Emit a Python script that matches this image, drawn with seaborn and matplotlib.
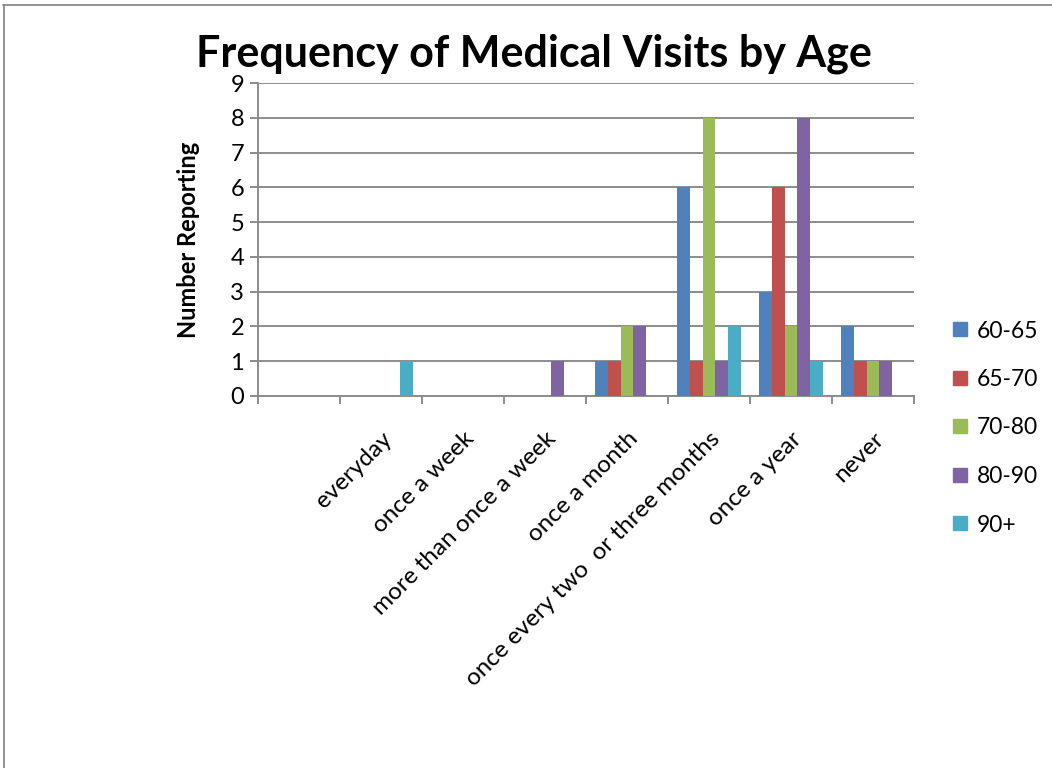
import matplotlib
matplotlib.use("Agg")
import matplotlib.pyplot as plt
from matplotlib.lines import Line2D
import numpy as np
import pandas as pd
import seaborn as sns

# Visit frequency categories (the first slot is an unlabeled, empty category)
categories = ["", "everyday", "once a week", "more than once a week",
              "once a month", "once every two  or three months",
              "once a year", "never"]

age_groups = ["60-65", "65-70", "70-80", "80-90", "90+"]

counts_60_65 = [0, 0, 0, 0, 1, 6, 3, 2]
counts_65_70 = [0, 0, 0, 0, 1, 1, 6, 1]
counts_70_80 = [0, 0, 0, 0, 2, 8, 2, 1]
counts_80_90 = [0, 0, 0, 1, 2, 1, 8, 1]
counts_90_plus = [0, 1, 0, 0, 0, 2, 1, 0]

colors = ["#4F81BD", "#C0504D", "#9BBB59", "#8064A2", "#4BACC6"]

series = [counts_60_65, counts_65_70, counts_70_80, counts_80_90, counts_90_plus]
rows = []
for grp, vals in zip(age_groups, series):
    for cat, v in zip(categories, vals):
        rows.append({"frequency": cat, "age": grp, "count": v})
df = pd.DataFrame(rows)

sns.set_theme(style="white")
plt.rcParams["font.family"] = ["Lato", "DejaVu Sans"]
plt.rcParams.update({"text.color": "black", "axes.labelcolor": "black",
                     "xtick.color": "black", "ytick.color": "black"})

grid_color = "#8C8C8C"

fig = plt.figure(figsize=(10.52, 7.68), dpi=100)
ax = fig.add_axes([258 / 1052, 1 - 396 / 768, (914 - 258) / 1052, (396 - 83) / 768])

sns.barplot(data=df, x="frequency", y="count", hue="age",
            order=categories, hue_order=age_groups, palette=colors,
            saturation=1, width=0.77, errorbar=None, ax=ax,
            edgecolor="none", linewidth=0, zorder=3)

ax.set_xlim(-0.5, len(categories) - 0.5)
ax.set_ylim(0, 9)
ax.set_yticks(range(0, 10))
ax.yaxis.grid(True, color=grid_color, linewidth=1.4, zorder=0)
ax.set_axisbelow(True)

for side in ("top", "right"):
    ax.spines[side].set_visible(False)
for side in ("left", "bottom"):
    ax.spines[side].set_color(grid_color)
    ax.spines[side].set_linewidth(1.4)

# category boundary ticks on the x axis
ax.set_xticks(np.arange(-0.5, len(categories)), minor=True)
ax.tick_params(axis="x", which="minor", bottom=True, length=6, width=1.4,
               color=grid_color)
ax.tick_params(axis="x", which="major", bottom=False, length=0, pad=23,
               labelsize=17.5)
ax.tick_params(axis="y", left=True, length=6, width=1.4, color=grid_color,
               labelsize=17, pad=4)
ax.set_xticks(range(len(categories)))
ax.set_xticklabels(categories, rotation=45, ha="right", va="top",
                   rotation_mode="anchor")

ax.set_xlabel("")
ax.set_ylabel("Number Reporting", fontsize=17, fontweight="bold", labelpad=22)

# legend with square swatches
handles = [Line2D([0], [0], marker="s", linestyle="none", markersize=10.5,
                  markerfacecolor=c, markeredgecolor=c) for c in colors]
ax.legend(handles, age_groups, loc="center left",
          bbox_to_anchor=(939 / 1052, 1 - 428 / 768),
          bbox_transform=fig.transFigure, frameon=False, fontsize=16.5,
          labelspacing=1.2, handletextpad=0.25, handlelength=1.0,
          borderaxespad=0)

fig.text(534 / 1052, 1 - 54 / 768, "Frequency of Medical Visits by Age",
         ha="center", va="center", fontsize=31, fontweight="bold")

# outline along the top and left edges
fig.add_artist(Line2D([3 / 1052, 1], [1 - 5 / 768, 1 - 5 / 768],
                      transform=fig.transFigure, color="#808080", linewidth=1.2))
fig.add_artist(Line2D([4 / 1052, 4 / 1052], [0, 1 - 5 / 768],
                      transform=fig.transFigure, color="#808080", linewidth=1.2))

fig.savefig("out.png", dpi=100, facecolor="white")
